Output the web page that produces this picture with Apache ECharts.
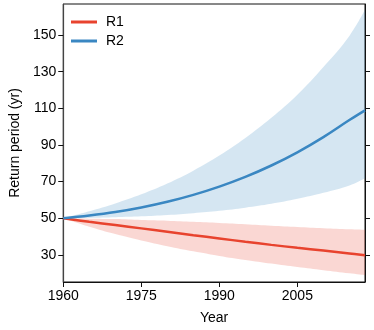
<!DOCTYPE html>
<html>
<head>
<meta charset="utf-8">
<script src="https://cdn.jsdelivr.net/npm/echarts@6/dist/echarts.min.js"></script>
<style>html,body{margin:0;padding:0;background:#fff}#c{width:374px;height:330px}</style>
</head>
<body>
<div id="c"></div>
<script>
const years = [1960,1965,1970,1975,1980,1985,1990,1995,2000,2005,2010,2015,2018];
const r1 = [50,48.1,46.3,44.5,42.7,40.8,39.0,37.2,35.5,33.9,32.4,30.8,29.8];
const r1Low = [50,45.4,41.4,37.9,34.8,32.0,29.5,27.3,25.3,23.4,21.7,20.0,19.0];
const r1High = [50,49.8,49.6,49.1,48.7,48.1,47.5,46.8,46.0,45.3,44.6,44.0,43.7];
const r2 = [50,51.5,53.4,55.9,59.0,62.8,67.3,72.6,78.8,86.0,94.3,103.6,108.9];
const r2Low = [50,50.2,50.55,51.05,51.8,52.8,54.1,55.8,57.9,60.6,63.9,67.9,71.9];
const r2High = [50,53.8,58.1,63.1,69.0,76.0,84.2,93.8,104.8,117.4,132.5,149.5,163.7];
const yTicks = [30,50,70,90,110,130,150];
const xTicks = [1960,1975,1990,2005];

const font = 'Liberation Sans, Arial, sans-serif';
// rows stored as [value, year] so that stacking acts on the value dimension
const rows = (ys) => years.map((x, i) => [ys[i], x]);
const diffRows = (hi, lo) => years.map((x, i) => [+(hi[i] - lo[i]).toFixed(3), x]);
const enc = {x: 1, y: 0};

const chart = echarts.init(document.getElementById('c'), null, {renderer: 'canvas'});
const yCommon = {type: 'value', min: 15.25, max: 166.9, splitLine: {show: false}};
chart.setOption({
  animation: false,
  grid: {left: 60, right: 9, top: 4, bottom: 47, show: true, borderColor: '#111', borderWidth: 1},
  legend: {
    orient: 'vertical', left: 66, top: 10, itemWidth: 26, itemHeight: 3, itemGap: 5,
    textStyle: {fontFamily: font, fontSize: 14, color: '#000', padding: [0,0,0,4]},
    data: [{name: 'R1', icon: 'rect'}, {name: 'R2', icon: 'rect'}]
  },
  xAxis: {
    type: 'value', min: 1960, max: 2018,
    name: 'Year', nameLocation: 'middle', nameGap: 29,
    nameTextStyle: {fontFamily: font, fontSize: 14, color: '#000'},
    axisLine: {show: true, lineStyle: {color: '#111', width: 1}},
    axisTick: {show: true, customValues: xTicks, length: 5, lineStyle: {color: '#111'}},
    axisLabel: {customValues: xTicks, formatter: v => String(v), fontFamily: font, fontSize: 14, color: '#000', margin: 7},
    splitLine: {show: false}
  },
  yAxis: [
    Object.assign({}, yCommon, {
      position: 'left',
      name: 'Return period (yr)', nameLocation: 'middle', nameGap: 38,
      nameTextStyle: {fontFamily: font, fontSize: 14, color: '#000'},
      axisLine: {show: true, lineStyle: {color: '#444', width: 1.2}},
      axisTick: {show: true, customValues: yTicks, length: 5, lineStyle: {color: '#111'}},
      axisLabel: {customValues: yTicks, fontFamily: font, fontSize: 14, color: '#000', margin: 7}
    }),
    Object.assign({}, yCommon, {
      position: 'right',
      axisLine: {show: true, lineStyle: {color: '#111', width: 1}},
      axisTick: {show: true, customValues: yTicks, length: 5, lineStyle: {color: '#111'}},
      axisLabel: {show: false}
    })
  ],
  series: [
    {name: 'r1lo', type: 'line', stack: 'b1', encode: enc, data: rows(r1Low), smooth: 0.4, symbol: 'none', lineStyle: {opacity: 0}, silent: true},
    {name: 'r1band', type: 'line', stack: 'b1', encode: enc, data: diffRows(r1High, r1Low), smooth: 0.4, symbol: 'none', lineStyle: {opacity: 0}, areaStyle: {color: 'rgba(232,67,46,0.21)', opacity: 1}, silent: true},
    {name: 'r2lo', type: 'line', stack: 'b2', encode: enc, data: rows(r2Low), smooth: 0.4, symbol: 'none', lineStyle: {opacity: 0}, silent: true},
    {name: 'r2band', type: 'line', stack: 'b2', encode: enc, data: diffRows(r2High, r2Low), smooth: 0.4, symbol: 'none', lineStyle: {opacity: 0}, areaStyle: {color: 'rgba(58,135,194,0.21)', opacity: 1}, silent: true},
    {name: 'R1', type: 'line', encode: enc, data: rows(r1), smooth: 0.4, symbol: 'none', color: '#E8432E', lineStyle: {width: 2.5, color: '#E8432E'}},
    {name: 'R2', type: 'line', encode: enc, data: rows(r2), smooth: 0.4, symbol: 'none', color: '#3A87C2', lineStyle: {width: 2.5, color: '#3A87C2'}}
  ]
});
</script>
</body>
</html>
